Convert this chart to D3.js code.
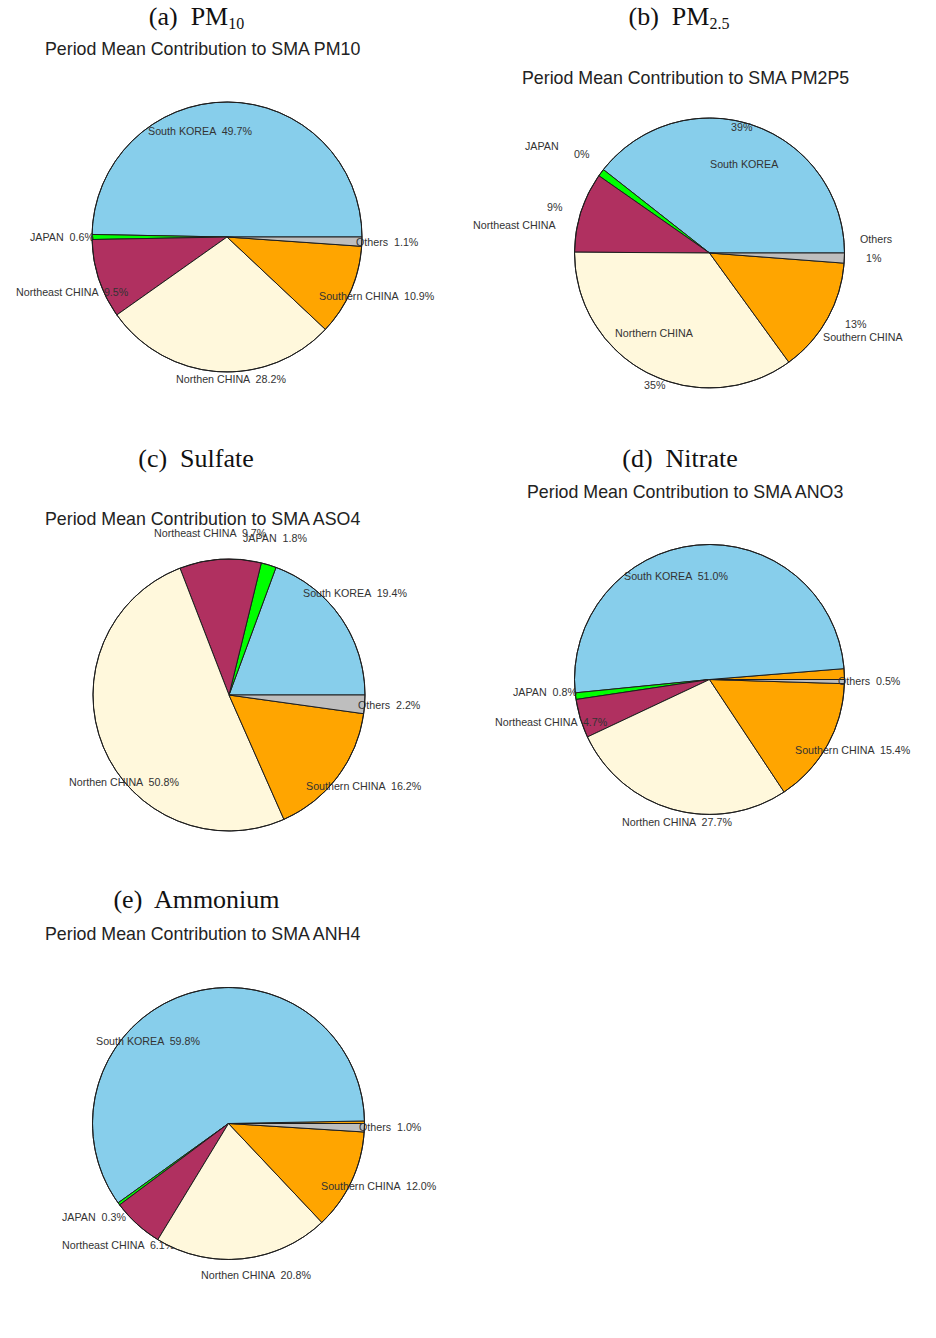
<!DOCTYPE html>
<html><head><meta charset="utf-8">
<script src="https://cdn.jsdelivr.net/npm/d3@7"></script>
<style>
body{margin:0;background:#fff;}
svg{display:block;}
text{white-space:pre;}
</style></head><body>
<svg id="chart" width="936" height="1338"></svg>
<script>
// ---- data ----
const categories = ["Unassigned","South KOREA","JAPAN","Northeast CHINA","Northern CHINA","Southern CHINA","Others"];
const sliceColors = ["#FFA500","#87CEEB","#00FF00","#B03060","#FFF8DC","#FFA500","#BEBEBE"];

const pm10Values = [0, 49.7, 0.6, 9.5, 28.2, 10.9, 1.1];
const pm25Values = [0, 39.4, 0.9, 9.6, 35.1, 13.8, 1.2];
const aso4Values = [0, 19.4, 1.8, 9.7, 50.8, 16.2, 2.2];
const ano3Values = [1.3, 51.0, 0.8, 4.7, 27.7, 15.4, 0.5];
const anh4Values = [0.3, 59.8, 0.3, 6.1, 20.8, 12.0, 1.0];

const pm10Labels = [[], ["South KOREA  49.7%"], ["JAPAN  0.6%"], ["Northeast CHINA  9.5%"], ["Northen CHINA  28.2%"], ["Southern CHINA  10.9%"], ["Others  1.1%"]];
const pm25Labels = [[], ["39%", "South KOREA"], ["JAPAN", "0%"], ["9%", "Northeast CHINA"], ["Northern CHINA", "35%"], ["13%", "Southern CHINA"], ["Others", "1%"]];
const aso4Labels = [[], ["South KOREA  19.4%"], ["JAPAN  1.8%"], ["Northeast CHINA  9.7%"], ["Northen CHINA  50.8%"], ["Southern CHINA  16.2%"], ["Others  2.2%"]];
const ano3Labels = [[], ["South KOREA  51.0%"], ["JAPAN  0.8%"], ["Northeast CHINA  4.7%"], ["Northen CHINA  27.7%"], ["Southern CHINA  15.4%"], ["Others  0.5%"]];
const anh4Labels = [[], ["South KOREA  59.8%"], ["JAPAN  0.3%"], ["Northeast CHINA  6.1%"], ["Northen CHINA  20.8%"], ["Southern CHINA  12.0%"], ["Others  1.0%"]];

// ---- layout (label anchor points, page px) ----
const pm10LabelPos = [[], [[148,135]], [[30,241]], [[16,295.5]], [[176,383]], [[319,299.5]], [[356,246]]];
const pm25LabelPos = [[], [[731,131],[710,168]], [[525,150],[574,158]], [[547,211],[473,229]], [[615,337],[644,388.5]], [[845,327.5],[823,341]], [[860,242.5],[866,262]]];
const aso4LabelPos = [[], [[303,596.5]], [[243,542]], [[154,537]], [[69,786]], [[306,789.5]], [[358,708.5]]];
const ano3LabelPos = [[], [[624,580]], [[513,696]], [[495,726]], [[622,826]], [[795,754]], [[838,685]]];
const anh4LabelPos = [[], [[96,1044.5]], [[62,1221]], [[62,1248.5]], [[201,1278.5]], [[321,1189.5]], [[359,1131]]];

const panels = [
  {head:"(a)  PM", sub:"10", hx:196.5, hy:25, title:"Period Mean Contribution to SMA PM10", tx:45, ty:55, cx:227, cy:237, r:135, values:pm10Values, labels:pm10Labels, pos:pm10LabelPos},
  {head:"(b)  PM", sub:"2.5", hx:679, hy:25, title:"Period Mean Contribution to SMA PM2P5", tx:522, ty:84, cx:709.5, cy:253, r:135, values:pm25Values, labels:pm25Labels, pos:pm25LabelPos},
  {head:"(c)  Sulfate", sub:"", hx:196, hy:467, title:"Period Mean Contribution to SMA ASO4", tx:45, ty:525, cx:229, cy:695, r:136, values:aso4Values, labels:aso4Labels, pos:aso4LabelPos},
  {head:"(d)  Nitrate", sub:"", hx:680, hy:467, title:"Period Mean Contribution to SMA ANO3", tx:527, ty:498, cx:709.5, cy:679.5, r:135, values:ano3Values, labels:ano3Labels, pos:ano3LabelPos},
  {head:"(e)  Ammonium", sub:"", hx:196.5, hy:908, title:"Period Mean Contribution to SMA ANH4", tx:45, ty:940, cx:228.5, cy:1123.5, r:136, values:anh4Values, labels:anh4Labels, pos:anh4LabelPos}
];

const svg = d3.select("#chart");
const color = d3.scaleOrdinal().domain(categories).range(sliceColors);
// R-style pie: counter-clockwise from 3 o'clock
const pie = d3.pie().sort(null).value(d => d.value)
  .startAngle(Math.PI / 2).endAngle(Math.PI / 2 - 2 * Math.PI);

panels.forEach(p => {
  const head = svg.append("text")
    .attr("x", p.hx).attr("y", p.hy)
    .attr("text-anchor", "middle")
    .attr("font-family", "'Liberation Serif', 'DejaVu Serif', serif")
    .attr("font-size", 26).attr("fill", "#111")
    .text(p.head);
  if (p.sub) {
    head.append("tspan").attr("font-size", 16).attr("dy", 4).text(p.sub);
  }
  svg.append("text")
    .attr("x", p.tx).attr("y", p.ty)
    .attr("font-family", "'Liberation Sans', Arial, sans-serif")
    .attr("font-size", 17.8).attr("fill", "#222")
    .text(p.title);

  const g = svg.append("g");
  const arc = d3.arc().innerRadius(0).outerRadius(p.r);
  const arcs = pie(categories.map((c, i) => ({cat: c, value: p.values[i], idx: i})));
  arcs.forEach(a => {
    if (a.value > 0) {
      g.append("path")
        .attr("transform", `translate(${p.cx},${p.cy})`)
        .attr("d", arc(a))
        .attr("fill", color(a.data.cat))
        .attr("stroke", "#1e1e1e").attr("stroke-width", 1)
        .attr("stroke-linejoin", "round");
    }
    const texts = p.labels[a.data.idx];
    const pos = p.pos[a.data.idx];
    texts.forEach((t, k) => {
      g.append("text")
        .attr("x", pos[k][0]).attr("y", pos[k][1])
        .attr("font-family", "'Liberation Sans', Arial, sans-serif")
        .attr("font-size", 10.7).attr("fill", "#333")
        .text(t);
    });
  });
  g.append("circle")
    .attr("cx", p.cx).attr("cy", p.cy).attr("r", p.r)
    .attr("fill", "none").attr("stroke", "#1e1e1e").attr("stroke-width", 1);
});
</script>
</body></html>
